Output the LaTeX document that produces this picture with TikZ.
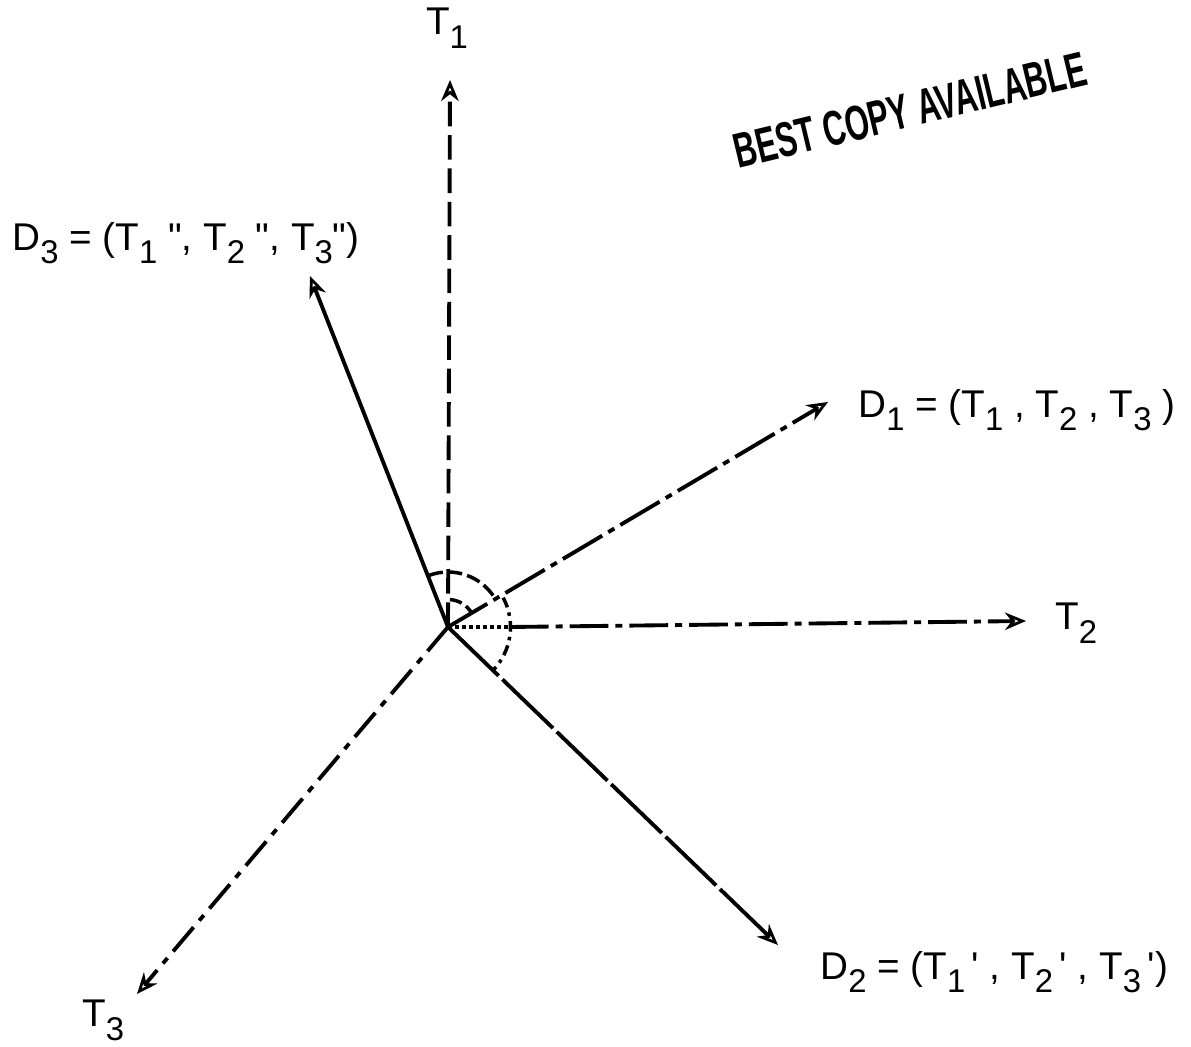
\documentclass[tikz,border=0pt]{standalone}
\usepackage{fontspec}
\newfontfamily\labfont{Liberation Sans}
\usetikzlibrary{arrows.meta,calc}
\newcommand{\lowr}[1]{\raisebox{-0.35em}{\scalebox{0.85}{#1}}}
\begin{document}
\begin{tikzpicture}[x=0.02cm,y=0.02cm,
  lbl/.style={font=\labfont\fontsize{22}{24}\selectfont, inner sep=0pt},
  axis/.style={line width=2.2pt, -{Stealth[open,length=12pt,width=10pt,line width=1.6pt]}},
  arcl/.style={line width=2pt}]
\useasboundingbox (0,0) rectangle (1191,1046);
\coordinate (O) at (448,419);
\coordinate (t1) at (450,966);
\coordinate (t2) at (1026,425);
\coordinate (t3) at (137,52);
\coordinate (d1) at (828,644);
\coordinate (d2) at (778,101);
\coordinate (d3) at (310,770);
\coordinate (t2s) at (510,419);
% labels
\node[lbl, anchor=north] (T1) at (447,1038) {T\lowr{1}};
\node[lbl, anchor=north west] (T2) at (1055,443) {T\lowr{2}};
\node[lbl, anchor=north west] (T3) at (82,46) {T\lowr{3}};
\node[lbl, anchor=west] (D1) at (858,636) {D\lowr{1} = (T\lowr{1} , T\lowr{2} , T\lowr{3} )};
\node[lbl, anchor=west] (D2) at (820,74) {D\lowr{2} = (T\lowr{1}\,' , T\lowr{2}\,' , T\lowr{3}\,')};
\node[lbl, anchor=west] (D3) at (12,803) {D\lowr{3} = (T\lowr{1} ", T\lowr{2} ", T\lowr{3}")};
\node[font=\labfont\bfseries\fontsize{28}{30}\selectfont, inner sep=0pt, rotate=13.5] (best) at (910,936) {\scalebox{0.63}[1]{BEST COPY AVAILABLE}};
% axes and vectors
\draw[axis, dash pattern=on 14pt off 5pt] (O) -- (t1);
\draw[axis] (O) -- (d3);
\draw[axis, dash pattern=on 26pt off 4pt on 4pt off 4pt] (O) -- (d1);
\draw[line width=2pt, dotted] (O) -- (t2s);
\draw[axis, dash pattern=on 22pt off 4pt on 4pt off 4pt] (t2s) -- (t2);
\draw[axis, dash pattern=on 18pt off 5pt on 4pt off 5pt] (O) -- (t3);
\draw[axis, dash pattern=on 40pt off 3pt] (O) -- (d2);
% angle arcs
\draw[arcl, dash pattern=on 8pt off 3pt] ($(O)+(110:1.1cm)$) arc[start angle=110, end angle=32, radius=1.1cm];
\draw[arcl, dash pattern=on 6pt off 3pt on 2pt off 3pt] ($(O)+(28:1.25cm)$) arc[start angle=28, end angle=-44, radius=1.25cm];
\draw[arcl, dash pattern=on 7pt off 3pt] ($(O)+(86:0.55cm)$) arc[start angle=86, end angle=30, radius=0.55cm];
\end{tikzpicture}
\end{document}
